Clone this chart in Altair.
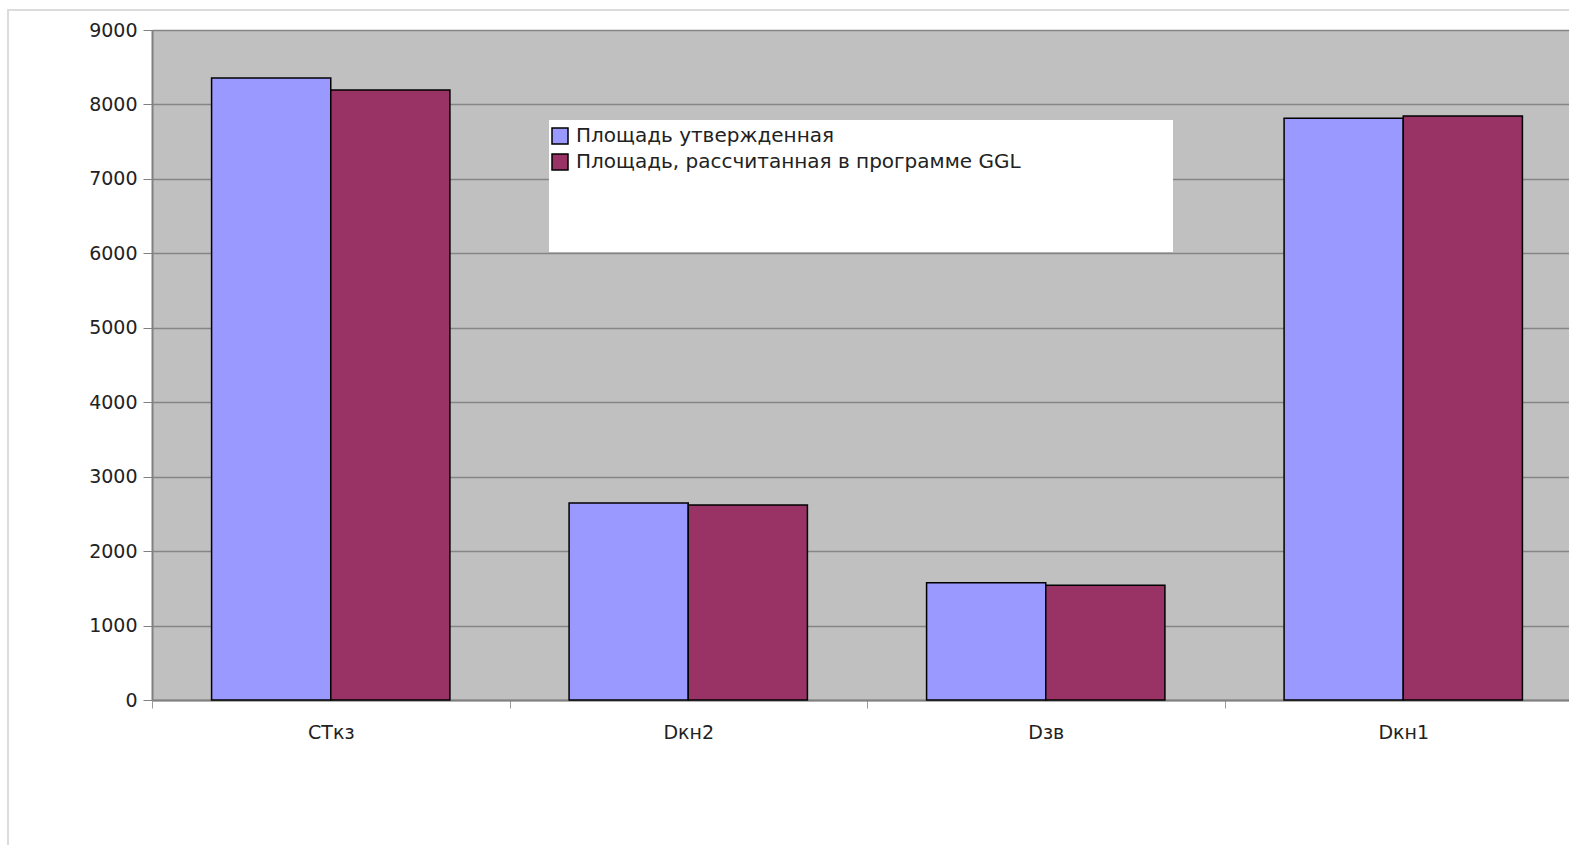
import altair as alt
import pandas as pd

# Categories and the two measured series
categories = ["CTкз", "Dкн2", "Dзв", "Dкн1"]
series_names = ["Площадь утвержденная", "Площадь, рассчитанная в  программе GGL"]
approved_area = [8355, 2645, 1575, 7815]
ggl_area = [8195, 2620, 1540, 7845]
y_ticks = list(range(0, 9001, 1000))

rows = []
for cat, a, g in zip(categories, approved_area, ggl_area):
    rows.append({"cat": cat, "series": series_names[0], "value": a})
    rows.append({"cat": cat, "series": series_names[1], "value": g})
df = pd.DataFrame(rows)

FONT = "DejaVu Sans"

bars = alt.Chart(df).mark_bar(stroke="black", strokeWidth=1.5).encode(
    x=alt.X(
        "cat:N",
        sort=categories,
        title=None,
        scale=alt.Scale(paddingInner=0, paddingOuter=0, range=[0, 1430]),
        axis=alt.Axis(
            labelAngle=0,
            labelFont=FONT,
            labelFontSize=19,
            labelColor="#222222",
            labelPadding=15,
            tickBand="extent",
            tickColor="#9a9a9a",
            tickSize=8,
            domainColor="#808080",
            domainWidth=2,
            grid=False,
        ),
    ),
    xOffset=alt.XOffset("series:N", sort=series_names,
                        scale=alt.Scale(paddingInner=0, paddingOuter=0.5)),
    y=alt.Y(
        "value:Q",
        title=None,
        scale=alt.Scale(domain=[0, 9000], nice=False),
        axis=alt.Axis(
            values=y_ticks,
            format="d",
            labelFont=FONT,
            labelFontSize=19,
            labelColor="#222222",
            labelPadding=6,
            tickColor="#808080",
            tickSize=9,
            domainColor="#808080",
            domainWidth=2,
            grid=True,
            gridColor="#858585",
            gridWidth=1.5,
        ),
    ),
    color=alt.Color(
        "series:N",
        sort=series_names,
        scale=alt.Scale(domain=series_names, range=["#9999FF", "#993366"]),
        legend=alt.Legend(
            title=None,
            orient="none",
            legendX=398,
            legendY=96,
            padding=0,
            symbolType="square",
            symbolSize=256,
            symbolStrokeColor="black",
            symbolStrokeWidth=1.5,
            symbolOpacity=1,
            labelFont=FONT,
            labelFontSize=20,
            labelColor="#222222",
            labelOffset=6,
            labelLimit=800,
            rowPadding=4,
        ),
    ),
)

# White panel behind the legend entries
legend_panel = alt.Chart(alt.Data(values=[{}])).mark_rect(fill="white").encode(
    x=alt.value(397), x2=alt.value(1021), y=alt.value(90), y2=alt.value(222)
)

# Light frame around the whole chart area
frame = alt.Chart(alt.Data(values=[{}])).mark_rect(
    fill=None, stroke="#dcdcdc", strokeWidth=2
).encode(
    x=alt.value(-144), x2=alt.value(1440), y=alt.value(-20), y2=alt.value(840)
)

chart = alt.layer(legend_panel, bars, frame).properties(
    width=1417,
    height=670,
    padding={"left": 152, "top": 30, "right": 0, "bottom": 145},
    autosize=alt.AutoSizeParams(type="none"),
    background="white",
).configure_view(fill="#C0C0C0", stroke=None)

chart.save("out.html", embed_options={"renderer": "svg", "actions": False})
